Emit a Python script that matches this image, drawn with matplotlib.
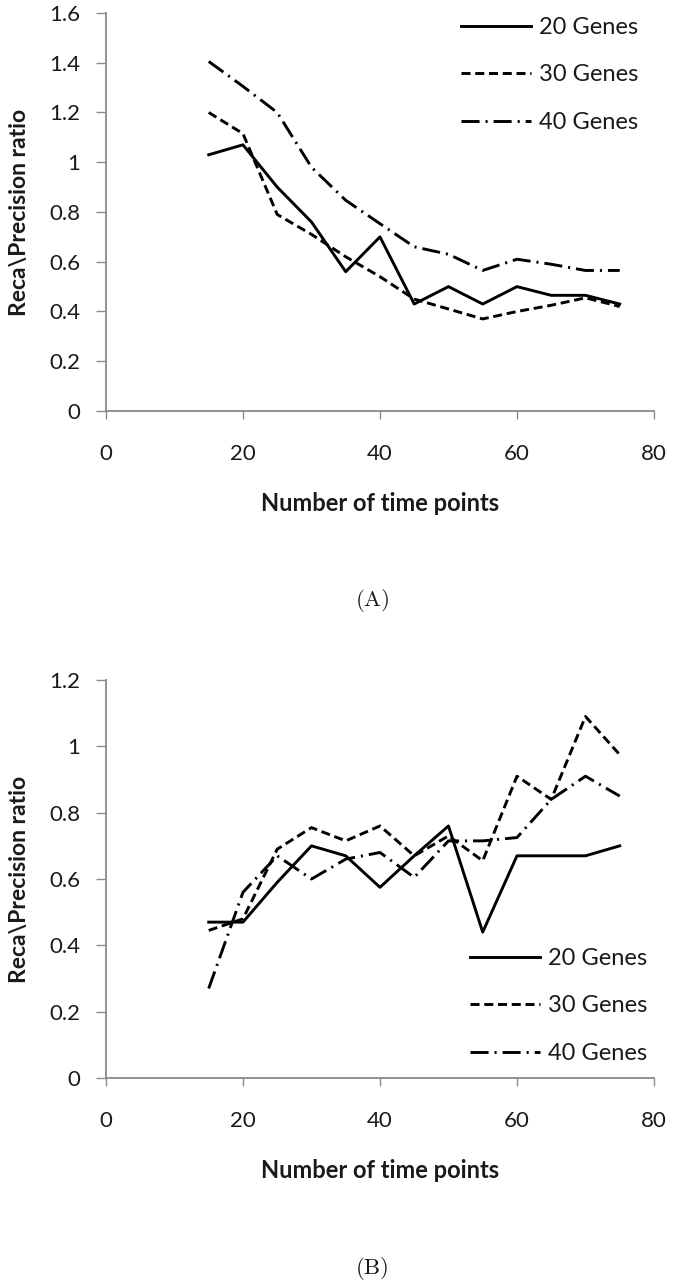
import numpy as np
import matplotlib.pyplot as plt
from matplotlib.ticker import FuncFormatter

# Data (Recall\Precision ratio vs number of time points)
time_points = [15, 20, 25, 30, 35, 40, 45, 50, 55, 60, 65, 70, 75]

# Panel (A)
a_20 = [1.03, 1.07, 0.90, 0.76, 0.56, 0.70, 0.43, 0.50, 0.43, 0.50, 0.465, 0.465, 0.43]
a_30 = [1.20, 1.115, 0.79, 0.71, 0.62, 0.54, 0.45, 0.41, 0.37, 0.40, 0.425, 0.455, 0.42]
a_40 = [1.405, 1.305, 1.20, 0.98, 0.847, 0.753, 0.66, 0.63, 0.565, 0.61, 0.59, 0.565, 0.565]

# Panel (B)
b_20 = [0.47, 0.47, 0.59, 0.70, 0.67, 0.575, 0.67, 0.76, 0.44, 0.67, 0.67, 0.67, 0.70]
b_30 = [0.445, 0.48, 0.69, 0.755, 0.715, 0.76, 0.67, 0.73, 0.655, 0.91, 0.84, 1.09, 0.975]
b_40 = [0.27, 0.56, 0.67, 0.60, 0.66, 0.68, 0.605, 0.715, 0.715, 0.725, 0.84, 0.91, 0.85]

labels = ["20 Genes", "30 Genes", "40 Genes"]

plt.rcParams['lines.scale_dashes'] = False
sans = ['Lato', 'DejaVu Sans']
axis_grey = '#8a8a8a'
txt = '#1a1a1a'

fig = plt.figure(figsize=(6.85, 12.84), dpi=100)
ax_a = fig.add_axes([0.1547, 0.6799, 0.8, 0.31])
ax_b = fig.add_axes([0.1547, 0.1604, 0.8, 0.31])

def style_axes(ax, ymax):
    ax.set_xlim(0, 80)
    ax.set_ylim(0, ymax)
    ax.set_xticks([0, 20, 40, 60, 80])
    ax.set_yticks(np.arange(0, ymax + 0.01, 0.2))
    ax.yaxis.set_major_formatter(FuncFormatter(lambda v, p: f"{v:g}"))
    for s in ['top', 'right']:
        ax.spines[s].set_visible(False)
    for s in ['left', 'bottom']:
        ax.spines[s].set_color(axis_grey)
        ax.spines[s].set_linewidth(1.3)
    ax.tick_params(axis='y', direction='out', length=7.5, width=1.0, color=axis_grey,
                   pad=11, labelsize=16, labelcolor=txt)
    ax.tick_params(axis='x', direction='out', length=6, width=1.0, color=axis_grey,
                   pad=18, labelsize=16, labelcolor=txt)
    for lab in ax.get_xticklabels() + ax.get_yticklabels():
        lab.set_family(sans)
    ax.set_xlabel("Number of time points", fontsize=17, fontweight='bold',
                  family=sans, color=txt, labelpad=20)
    ax.set_ylabel("Reca\\Precision ratio", fontsize=16.5, fontweight='bold',
                  family=sans, color=txt, labelpad=14)

def draw(ax, s20, s30, s40):
    ax.plot(time_points, s20, color='black', lw=2.1, label=labels[0])
    ax.plot(time_points, s30, color='black', lw=2.1, dashes=(6.5, 3.4), label=labels[1])
    ax.plot(time_points, s40, color='black', lw=2.1, dashes=(13, 4.3, 1.5, 4.3), label=labels[2])

legend_kw = dict(loc='upper left', frameon=False, prop={'family': sans, 'size': 17},
                 handlelength=2.95, handletextpad=0.35, labelspacing=1.12,
                 borderpad=0, borderaxespad=0, labelcolor=txt)

draw(ax_a, a_20, a_30, a_40)
style_axes(ax_a, 1.6)
ax_a.legend(bbox_to_anchor=(0.648, 0.99), **legend_kw)

draw(ax_b, b_20, b_30, b_40)
style_axes(ax_b, 1.2)
ax_b.legend(bbox_to_anchor=(0.665, 0.327), **legend_kw)

fig.text(0.5445, 1 - 600 / 1284, "(A)", ha='center', va='center',
         family='cmr10', fontsize=16.5, color=txt)
fig.text(0.5445, 1 - 1268 / 1284, "(B)", ha='center', va='center',
         family='cmr10', fontsize=16.5, color=txt)

fig.savefig("out.png", dpi=100)
